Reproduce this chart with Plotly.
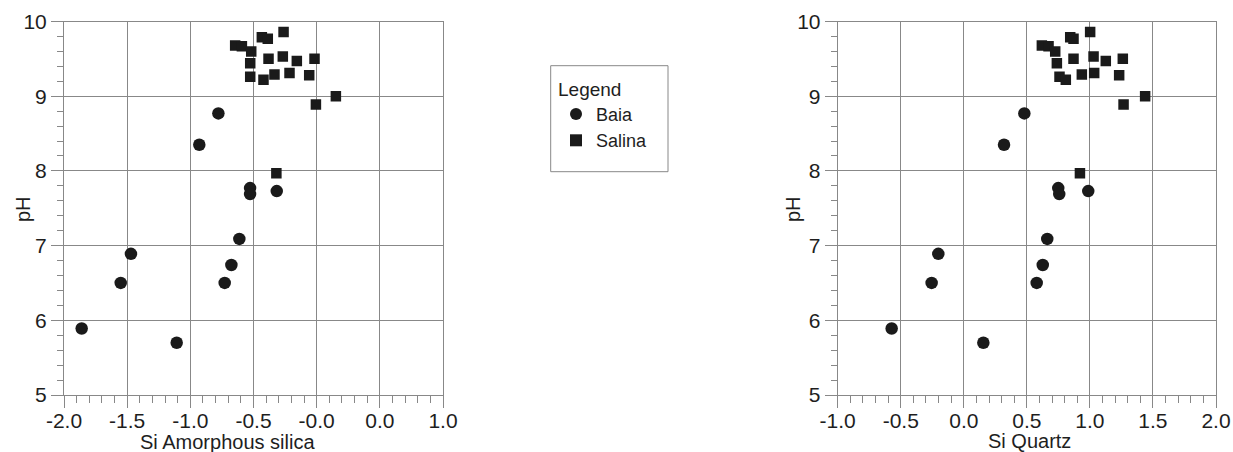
import plotly.graph_objects as go

W, H = 1233, 452

# ---- data ----
baia_ph = [5.89, 5.70, 6.50, 6.89, 6.50, 6.74, 7.09, 7.77, 7.69, 7.73, 8.35, 8.77]
baia_si_amorph = [-1.86, -1.108, -1.551, -1.470, -0.728, -0.675, -0.612, -0.527, -0.527, -0.316, -0.929, -0.778]
baia_si_quartz = [-0.572, 0.155, -0.255, -0.202, 0.578, 0.626, 0.662, 0.749, 0.757, 0.987, 0.319, 0.480]

salina_ph = [9.68, 9.67, 9.60, 9.79, 9.77, 9.86, 9.44, 9.50, 9.53, 9.47, 9.50,
             9.26, 9.22, 9.29, 9.31, 9.28, 8.89, 9.00, 7.97]
salina_si_amorph = [-0.645, -0.592, -0.518, -0.434, -0.387, -0.262, -0.526, -0.381, -0.268, -0.157, -0.017,
                    -0.526, -0.421, -0.334, -0.215, -0.059, -0.006, 0.152, -0.319]
salina_si_quartz = [0.619, 0.672, 0.725, 0.844, 0.870, 1.002, 0.738, 0.870, 1.029, 1.126, 1.261,
                    0.759, 0.809, 0.936, 1.034, 1.232, 1.267, 1.438, 0.921]

left_xticks = [-2.0, -1.5, -1.0, -0.5, 0.0, 0.5, 1.0]
left_xticktext = ["-2.0", "-1.5", "-1.0", "-0.5", "-0.0", "0.0", "1.0"]
right_xticks = [-1.0, -0.5, 0.0, 0.5, 1.0, 1.5, 2.0]
right_xticktext = ["-1.0", "-0.5", "0.0", "0.5", "1.0", "1.5", "2.0"]
yticks = [5, 6, 7, 8, 9, 10]
yticktext = ["5", "6", "7", "8", "9", "10"]

# ---- styles ----
FONT = "Liberation Sans, Arial, sans-serif"
TXT = "#1e1e1e"
GRID = "#888888"
LINE = "#888888"
MK = "#1a1a1a"
CIRCLE_SIZE = 12.5
SQUARE_SIZE = 10.5

fig = go.Figure()
fig.add_trace(go.Scatter(x=baia_si_amorph, y=baia_ph, mode="markers", name="Baia",
                         marker=dict(symbol="circle", size=CIRCLE_SIZE, color=MK), xaxis="x", yaxis="y"))
fig.add_trace(go.Scatter(x=salina_si_amorph, y=salina_ph, mode="markers", name="Salina",
                         marker=dict(symbol="square", size=SQUARE_SIZE, color=MK), xaxis="x", yaxis="y"))
fig.add_trace(go.Scatter(x=baia_si_quartz, y=baia_ph, mode="markers", name="Baia", showlegend=False,
                         marker=dict(symbol="circle", size=CIRCLE_SIZE, color=MK), xaxis="x2", yaxis="y2"))
fig.add_trace(go.Scatter(x=salina_si_quartz, y=salina_ph, mode="markers", name="Salina", showlegend=False,
                         marker=dict(symbol="square", size=SQUARE_SIZE, color=MK), xaxis="x2", yaxis="y2"))

ydom = [(H - 395) / H, (H - 21.5) / H]

def xax(dom, rng, tv, tt, anchor):
    return dict(domain=dom, range=rng, tickmode="array", tickvals=tv, ticktext=tt,
                showgrid=True, gridcolor=GRID, gridwidth=1, zeroline=False, automargin=False,
                showline=True, linecolor=LINE, linewidth=1, mirror=True,
                ticks="outside", ticklen=12, tickcolor=LINE, tickwidth=1,
                ticklabelstandoff=-5,
                minor=dict(tickmode="linear", tick0=0, dtick=0.1, ticks="outside", ticklen=7,
                           tickcolor=LINE, tickwidth=1, showgrid=False),
                tickfont=dict(family=FONT, size=21, color=TXT), anchor=anchor, fixedrange=True)

def yax(rng, anchor):
    return dict(domain=ydom, range=rng, tickmode="array", tickvals=yticks, ticktext=yticktext,
                showgrid=True, gridcolor=GRID, gridwidth=1, zeroline=False, automargin=False,
                showline=True, linecolor=LINE, linewidth=1, mirror=True,
                ticks="outside", ticklen=12, tickcolor=LINE, tickwidth=1,
                ticklabelstandoff=0,
                minor=dict(tickmode="linear", tick0=0, dtick=0.2, ticks="outside", ticklen=6,
                           tickcolor=LINE, tickwidth=1, showgrid=False),
                tickfont=dict(family=FONT, size=21, color=TXT), anchor=anchor, fixedrange=True)

fig.update_layout(
    template="none",
    width=W, height=H, margin=dict(l=0, r=0, t=0, b=0, pad=0, autoexpand=False),
    paper_bgcolor="white", plot_bgcolor="white",
    font=dict(family=FONT, color=TXT),
    xaxis=xax([64 / W, 443 / W], [-2.0, 1.0], left_xticks, left_xticktext, "y"),
    yaxis=yax([5, 10], "x"),
    xaxis2=xax([837.7 / W, 1216 / W], [-1.0, 2.0], right_xticks, right_xticktext, "y2"),
    yaxis2=yax([5, 10], "x2"),
    legend=dict(x=556 / W, y=1 - 71 / H, xanchor="left", yanchor="top",
                title=dict(text="Legend", font=dict(family=FONT, size=19, color=TXT)),
                font=dict(family=FONT, size=18, color=TXT),
                bgcolor="rgba(0,0,0,0)", borderwidth=0, itemsizing="constant",
                tracegroupgap=0),
    shapes=[dict(type="rect", xref="paper", yref="paper",
                 x0=550.7 / W, x1=668 / W, y0=1 - 171.7 / H, y1=1 - 65.7 / H,
                 line=dict(color="#888888", width=1), fillcolor="rgba(0,0,0,0)")],
    annotations=[
        dict(text="Si Amorphous silica", xref="paper", yref="paper", x=227.5 / W, y=1 - 442 / H,
             xanchor="center", yanchor="middle", showarrow=False,
             font=dict(family=FONT, size=20, color=TXT)),
        dict(text="Si Quartz", xref="paper", yref="paper", x=1029 / W, y=1 - 441 / H,
             xanchor="center", yanchor="middle", showarrow=False,
             font=dict(family=FONT, size=20, color=TXT)),
        dict(text="pH", xref="paper", yref="paper", x=23 / W, y=1 - 209 / H,
             xanchor="center", yanchor="middle", showarrow=False, textangle=-90,
             font=dict(family=FONT, size=20, color=TXT)),
        dict(text="pH", xref="paper", yref="paper", x=793 / W, y=1 - 209 / H,
             xanchor="center", yanchor="middle", showarrow=False, textangle=-90,
             font=dict(family=FONT, size=20, color=TXT)),
    ],
)

fig.write_html("out.html", config={"displayModeBar": False, "staticPlot": True},
               post_script="document.body.style.margin='0';document.body.style.overflow='hidden';")
